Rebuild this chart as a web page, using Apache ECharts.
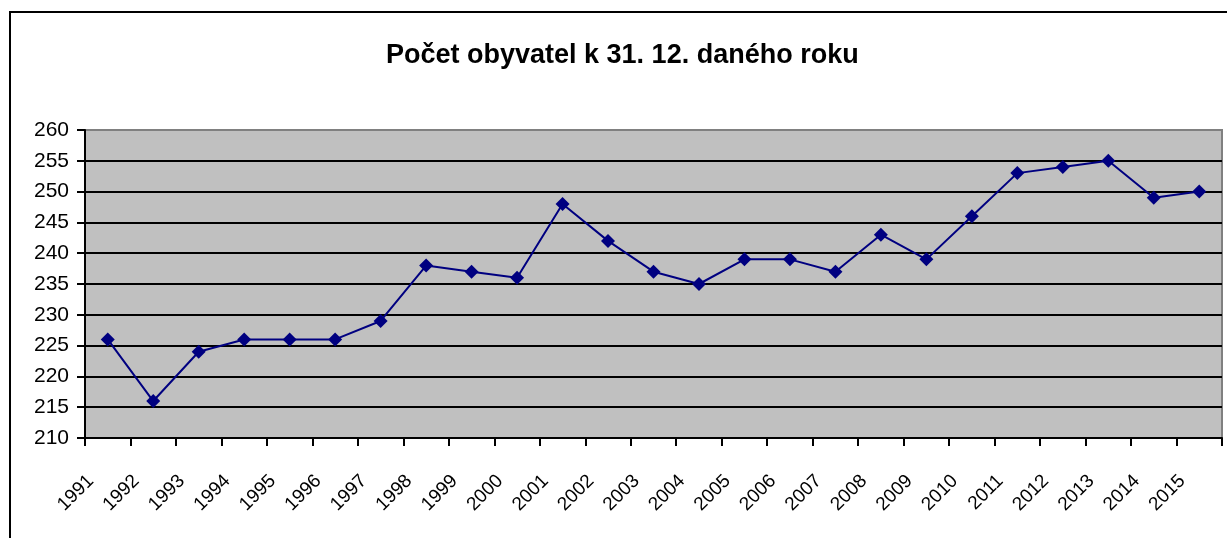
<!DOCTYPE html>
<html>
<head>
<meta charset="utf-8">
<title>Počet obyvatel</title>
<script src="https://cdn.jsdelivr.net/npm/echarts@6/dist/echarts.min.js"></script>
<style>
  html, body { margin: 0; padding: 0; background: #fff; }
  #chart { width: 1227px; height: 538px; }
</style>
</head>
<body>
<div id="chart"></div>
<script>
const years = ['1991', '1992', '1993', '1994', '1995', '1996', '1997', '1998', '1999', '2000',
  '2001', '2002', '2003', '2004', '2005', '2006', '2007', '2008', '2009', '2010',
  '2011', '2012', '2013', '2014', '2015']
const population = [226, 216, 224, 226, 226, 226, 229, 238, 237, 236,
  248, 242, 237, 235, 239, 239, 237, 243, 239, 246,
  253, 254, 255, 249, 250]

const chart = echarts.init(document.getElementById('chart'), null, { renderer: 'canvas' })

const option = {
  animation: false,
  backgroundColor: '#fff',
  title: {
    text: 'Počet obyvatel k 31. 12. daného roku',
    left: 386,
    top: 42,
    padding: 0,
    textStyle: {
      fontFamily: 'Arial, "Liberation Sans", sans-serif',
      fontSize: 27,
      fontWeight: 'bold',
      color: '#000',
    },
  },
  // outer chart frame (only top and left edges are visible)
  graphic: [
    {
      type: 'rect',
      shape: { x: 10, y: 12, width: 1400, height: 700 },
      style: { fill: 'none', stroke: '#000', lineWidth: 2 },
      z: 100,
    },
  ],
  grid: {
    left: 85,
    right: 5,
    top: 130,
    bottom: 100,
    show: true,
    backgroundColor: '#c0c0c0',
    borderColor: '#808080',
    borderWidth: 2,
  },
  xAxis: {
    type: 'category',
    data: years,
    boundaryGap: true,
    axisLine: { lineStyle: { color: '#000', width: 2 } },
    axisTick: { show: true, inside: false, length: 8, lineStyle: { color: '#000', width: 2 } },
    axisLabel: {
      interval: 0,
      rotate: 45,
      margin: 23,
      padding: [0, 24, 0, 0],
      fontFamily: 'Arial, "Liberation Sans", sans-serif',
      fontSize: 19,
      color: '#000',
    },
    splitLine: { show: false },
  },
  yAxis: {
    type: 'value',
    min: 210,
    max: 260,
    interval: 5,
    axisLine: { show: true, lineStyle: { color: '#000', width: 2 } },
    axisTick: { show: true, inside: false, length: 8, lineStyle: { color: '#000', width: 2 } },
    axisLabel: {
      margin: 16,
      fontFamily: 'Arial, "Liberation Sans", sans-serif',
      fontSize: 21,
      color: '#000',
    },
    splitLine: {
      show: true,
      showMinLine: false,
      showMaxLine: false,
      lineStyle: { color: '#000', width: 2 },
    },
  },
  series: [
    {
      type: 'line',
      data: population,
      symbol: 'diamond',
      symbolSize: 14,
      itemStyle: { color: '#000080' },
      lineStyle: { color: '#000080', width: 2 },
    },
  ],
}

chart.setOption(option)
</script>
</body>
</html>
